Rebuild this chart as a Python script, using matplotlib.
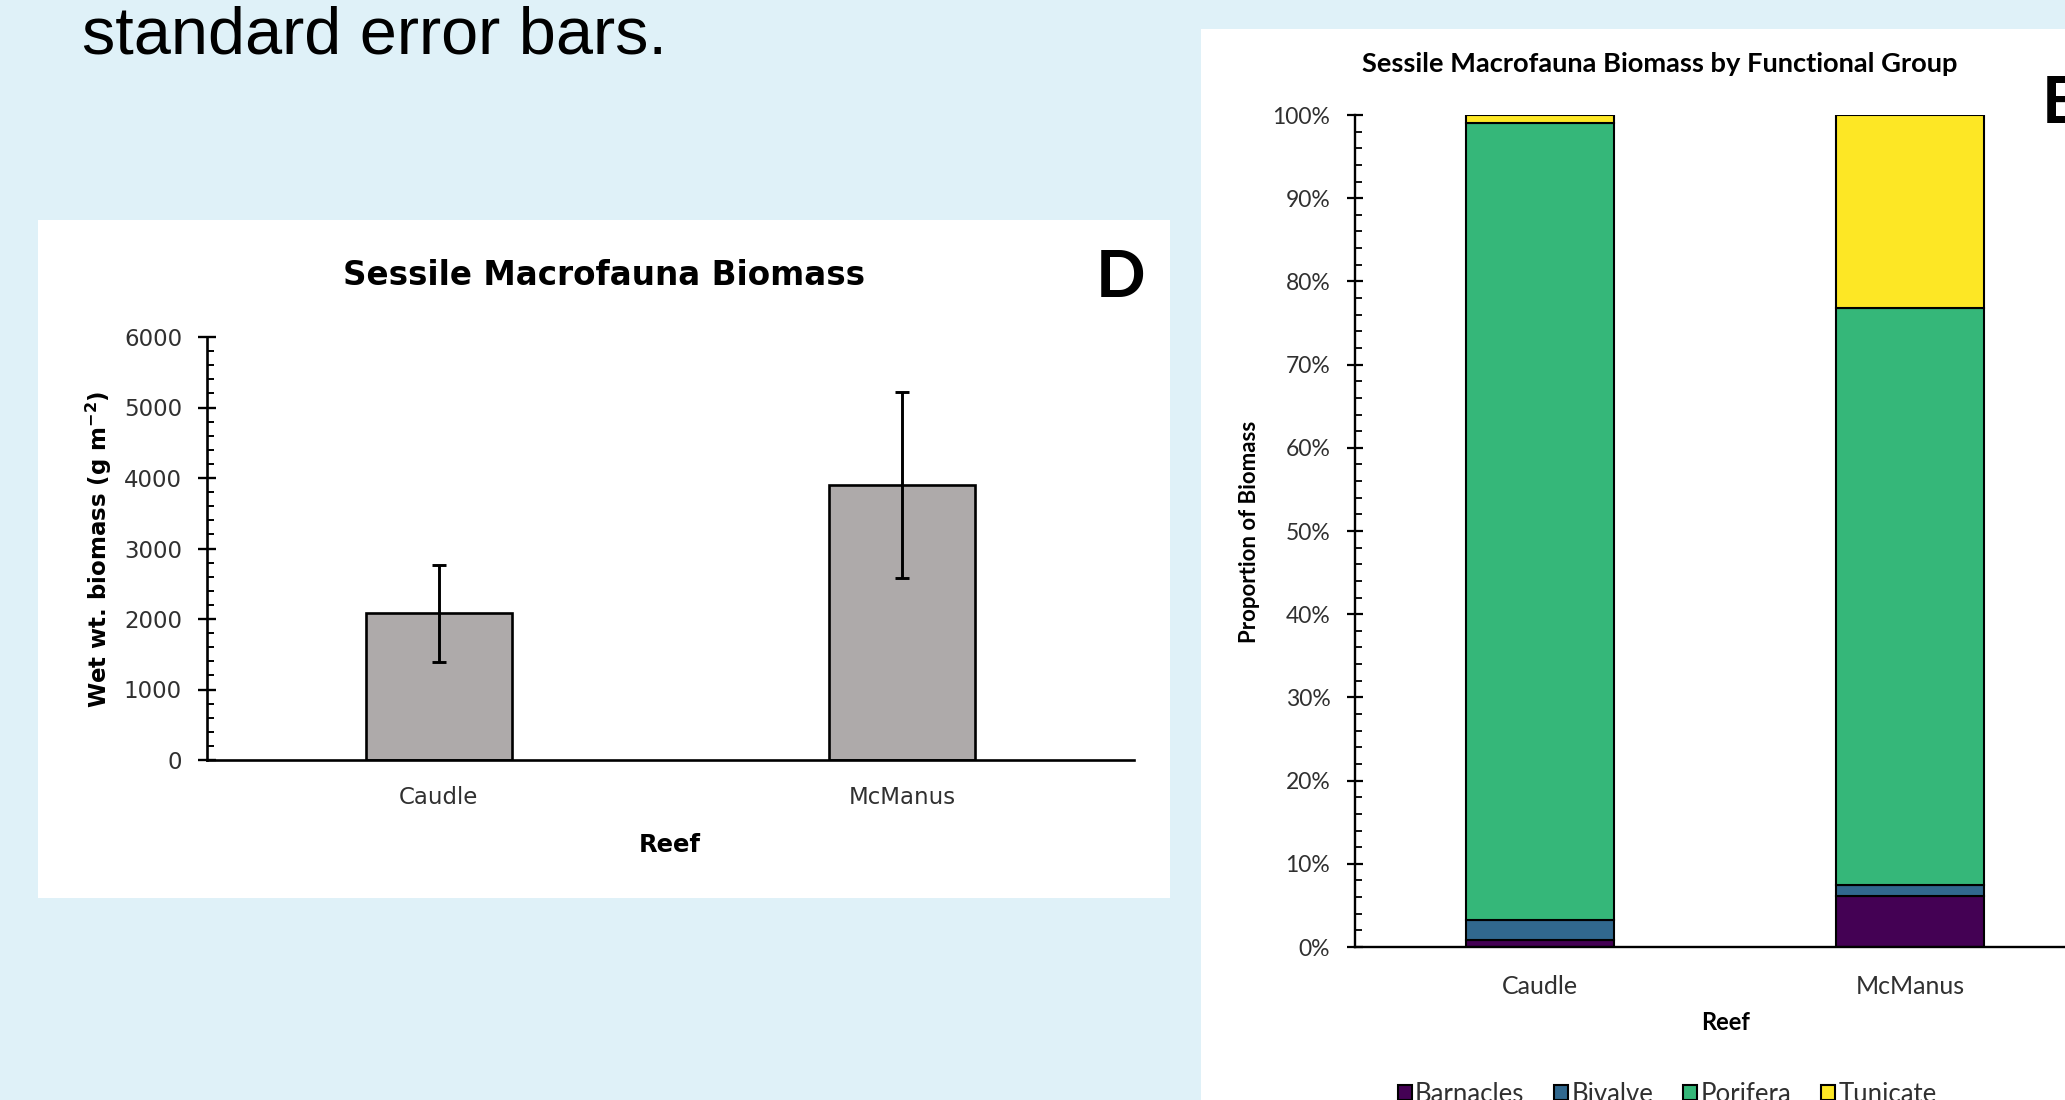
import matplotlib
matplotlib.use('Agg')
import matplotlib.pyplot as plt
from matplotlib.patches import Rectangle
from matplotlib.ticker import MultipleLocator
import numpy as np

# ---------------- data ----------------
reefs = ['Caudle', 'McManus']
biomass_mean = [2080, 3900]          # g m-2
biomass_se = [690, 1320]
biomass_ticks = [0, 1000, 2000, 3000, 4000, 5000, 6000]
biomass_tick_labels = ['0', '1000', '2000', '3000', '4000', '5000', '6000']

groups = ['Barnacles', 'Bivalve', 'Porifera', 'Tunicate']
group_colors = ['#440154', '#31688e', '#35b779', '#fde725']
prop_barnacles = [0.8, 6.1]          # percent
prop_bivalve = [2.4, 1.4]
prop_porifera = [95.8, 69.3]
prop_tunicate = [1.0, 23.2]
prop_ticks = [0, 10, 20, 30, 40, 50, 60, 70, 80, 90, 100]
prop_tick_labels = ['0%', '10%', '20%', '30%', '40%', '50%', '60%', '70%', '80%', '90%', '100%']

# ---------------- layout helpers ----------------
W, H = 2065, 1100
BG = '#DFF1F8'
fig = plt.figure(figsize=(W / 100, H / 100), dpi=100, facecolor=BG)


def fx(px):
    return px / W


def fy(py):
    return 1 - py / H


def box(x0, y0, x1, y1):
    fig.add_artist(Rectangle((fx(x0), fy(y1)), (x1 - x0) / W, (y1 - y0) / H,
                             transform=fig.transFigure, facecolor='white',
                             edgecolor='none', zorder=-1))


LEFT_FONT = 'DejaVu Sans'
RIGHT_FONT = 'Lato'
TICKC = '#303030'

# slide text
fig.text(fx(82), fy(53), 'standard error bars.', family='Liberation Sans',
         fontsize=48, color='black', ha='left', va='baseline')

# white chart boxes
box(38, 220, 1170, 898)
box(1201, 29, 2100, 1110)

# ---------------- left chart ----------------
ax1 = fig.add_axes([fx(207), fy(760), (1134 - 207) / W, (760 - 337) / H])
ax1.set_facecolor('none')
x = np.arange(len(reefs))
ax1.bar(x, biomass_mean, width=0.315, color='#AEAAAA', edgecolor='black',
        linewidth=1.9, yerr=biomass_se,
        error_kw=dict(ecolor='black', elinewidth=2.1, capsize=5, capthick=2.1),
        zorder=2)
ax1.set_xlim(-0.5, 1.5)
ax1.set_ylim(0, 6000)
for s in ['top', 'right']:
    ax1.spines[s].set_visible(False)
for s in ['left', 'bottom']:
    ax1.spines[s].set_linewidth(1.9)
    ax1.spines[s].set_color('black')
ax1.set_yticks(biomass_ticks, labels=biomass_tick_labels)
ax1.yaxis.set_minor_locator(MultipleLocator(200))
ax1.tick_params(axis='y', which='major', direction='inout', length=13, width=1.7,
                pad=11.5, labelsize=16.5, labelcolor=TICKC, color='black')
ax1.tick_params(axis='y', which='minor', direction='in', length=5, width=1.4,
                color='black')
ax1.set_xticks(x, labels=reefs)
ax1.tick_params(axis='x', length=0, pad=19, labelsize=16.5, labelcolor=TICKC)
for lab in ax1.get_xticklabels() + ax1.get_yticklabels():
    lab.set_family(LEFT_FONT)

fig.text(fx(604), fy(285), 'Sessile Macrofauna Biomass', family=LEFT_FONT,
         fontweight='bold', fontsize=23.5, ha='center', va='baseline')
fig.text(fx(1121), fy(297), 'D', family='Lato', fontweight='bold', fontsize=47,
         ha='center', va='baseline')
fig.text(fx(670), fy(852), 'Reef', family=LEFT_FONT, fontweight='bold',
         fontsize=17.5, ha='center', va='baseline')
fig.text(fx(99), fy(549), r'Wet wt. biomass (g m$^{\mathregular{-2}}$)',
         family=LEFT_FONT, fontweight='bold', fontsize=16.5, rotation=90,
         ha='center', va='center')

# ---------------- right chart ----------------
ax2 = fig.add_axes([fx(1355), fy(947), (2095 - 1355) / W, (947 - 115) / H])
ax2.set_facecolor('none')
series = [prop_barnacles, prop_bivalve, prop_porifera, prop_tunicate]
bottom = np.zeros(len(reefs))
handles = []
for vals, col, name in zip(series, group_colors, groups):
    b = ax2.bar(x, vals, bottom=bottom, width=0.40, color=col,
                edgecolor='black', linewidth=1.5, label=name, zorder=2)
    handles.append(b)
    bottom = bottom + np.array(vals)
ax2.set_xlim(-0.5, 1.5)
ax2.set_ylim(0, 100)
for s in ['top', 'right']:
    ax2.spines[s].set_visible(False)
for s in ['left', 'bottom']:
    ax2.spines[s].set_linewidth(1.7)
    ax2.spines[s].set_color('black')
ax2.set_yticks(prop_ticks, labels=prop_tick_labels)
ax2.yaxis.set_minor_locator(MultipleLocator(2))
ax2.tick_params(axis='y', which='major', direction='inout', length=11.5, width=1.6,
                pad=12, labelsize=16.5, labelcolor=TICKC, color='black')
ax2.tick_params(axis='y', which='minor', direction='in', length=5, width=1.3,
                color='black')
ax2.set_xticks(x, labels=reefs)
ax2.tick_params(axis='x', length=0, pad=20, labelsize=18, labelcolor=TICKC)
for lab in ax2.get_xticklabels() + ax2.get_yticklabels():
    lab.set_family(RIGHT_FONT)

fig.text(fx(1660), fy(72), 'Sessile Macrofauna Biomass by Functional Group',
         family=RIGHT_FONT, fontweight='bold', fontsize=19.6, ha='center',
         va='baseline')
fig.text(fx(2042), fy(123), 'E', family='Lato', fontweight='bold', fontsize=47,
         ha='left', va='baseline')
fig.text(fx(1726), fy(1030), 'Reef', family=RIGHT_FONT, fontweight='bold',
         fontsize=17, ha='center', va='baseline')
fig.text(fx(1249), fy(532), 'Proportion of Biomass', family=RIGHT_FONT,
         fontweight='bold', fontsize=16, rotation=90, ha='center', va='center')

leg = fig.legend(handles, groups, loc='center', bbox_to_anchor=(fx(1667), fy(1094)),
                 ncol=4, frameon=False, handlelength=0.56, handleheight=0.56,
                 handletextpad=0.12, columnspacing=1.15, borderpad=0,
                 prop=dict(family=RIGHT_FONT, size=18.5))
for t in leg.get_texts():
    t.set_color(TICKC)

fig.savefig('out.png', dpi=100, facecolor=BG)
